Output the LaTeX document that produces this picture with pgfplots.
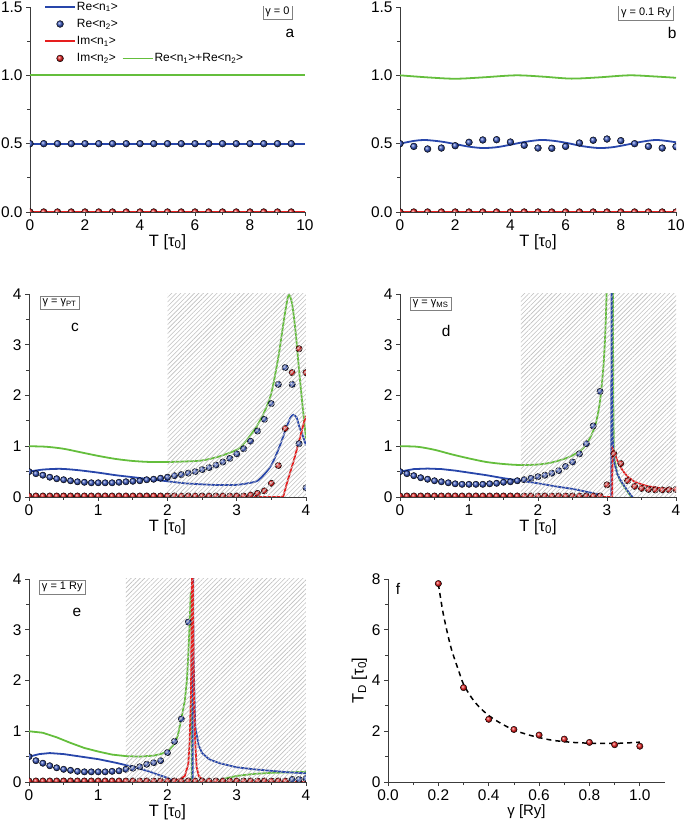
\documentclass[border=0pt]{standalone}
\usepackage{fontspec}
\setmainfont{Liberation Sans}
\usepackage{pgfplots}
\pgfplotsset{compat=1.18}
\usetikzlibrary{patterns.meta}
\definecolor{cblue}{RGB}{40,70,170}
\definecolor{cball}{RGB}{55,85,190}
\definecolor{cred}{RGB}{230,30,30}
\definecolor{cgreen}{RGB}{100,190,60}
\definecolor{axgray}{RGB}{60,60,60}
\tikzset{
  boxnode/.style={draw=gray, fill=white, inner sep=2.5bp, font=\fontsize{11}{12}\selectfont},
  letter/.style={font=\fontsize{15.5}{15.5}\selectfont},
}
\pgfplotsset{
  base/.style={scale only axis, axis lines*=left,
    axis line style={axgray, line width=0.8pt},
    tick style={axgray, line width=0.8pt},
    tick align=outside, major tick length=4bp, minor tick length=3bp,
    minor tick num=1, clip marker paths=true,
    tick label style={font=\fontsize{15.5}{15.5}\selectfont},
    label style={font=\fontsize{16.5}{16.5}\selectfont},
    /pgf/number format/assume math mode=true,
    xlabel style={yshift=3bp}},
  bline/.style={cblue, line width=1.8pt},
  rline/.style={cred, line width=1.8pt},
  gline/.style={cgreen, line width=1.8pt},
  bballs/.style={only marks, mark=ball, mark size=3.2bp, mark options={ball color=cball}},
  rballs/.style={only marks, mark=ball, mark size=3.2bp, mark options={ball color=cred}},
  hatch/.style={draw=none, pattern={Lines[angle=45, distance=3.2bp, line width=0.6bp]}, pattern color=gray!50},
  lineleg/.style={legend image code/.code={\draw[##1] (0bp,0bp) -- (30bp,0bp);}},
  ballleg/.style={legend image code/.code={\draw[##1] plot coordinates {(15bp,0bp)};}},
}
\begin{document}
\begin{tikzpicture}
\useasboundingbox (0,0) rectangle (685bp,827bp);
% ---------------- panel a
\begin{axis}[base, at={(30bp,615bp)}, anchor=south west, width=275bp, height=205bp,
  xmin=0, xmax=10, ymin=0, ymax=1.5, xtick={0,2,...,10}, ytick={0,0.5,1,1.5},
  yticklabel style={/pgf/number format/.cd, fixed, fixed zerofill, precision=1},
  xlabel={T [τ\textsubscript{0}]},
  legend columns=2, legend cell align=left,
  legend style={draw=none, fill=none, at={(rel axis cs:0.04,1.045)}, anchor=north west,
    font=\fontsize{12}{12}\selectfont, row sep=3.5bp,
    /tikz/every odd column/.append style={column sep=-1bp},
    /tikz/every even column/.append style={column sep=2bp}}]
\addplot[bline, lineleg] coordinates {(0,0.5) (2.5,0.5) (5,0.5) (7.5,0.5) (10,0.5)};
\addlegendentry{Re<n\textsubscript{1}>}
\addlegendimage{empty legend}
\addlegendentry{}
\addplot[bballs, mark size=3.4bp, ballleg] coordinates {(0,0.5)(0.5,0.5)(1,0.5)(1.5,0.5)(2,0.5)(2.5,0.5)(3,0.5)(3.5,0.5)(4,0.5)(4.5,0.5)(5,0.5)(5.5,0.5)(6,0.5)(6.5,0.5)(7,0.5)(7.5,0.5)(8,0.5)(8.5,0.5)(9,0.5)(9.5,0.5)};
\addlegendentry{Re<n\textsubscript{2}>}
\addlegendimage{empty legend}
\addlegendentry{}
\addplot[rline, lineleg] coordinates {(0,0) (2.5,0) (5,0) (7.5,0) (10,0)};
\addlegendentry{Im<n\textsubscript{1}>}
\addlegendimage{empty legend}
\addlegendentry{}
\addplot[rballs, mark size=3.4bp, ballleg] coordinates {(0,0)(0.5,0)(1,0)(1.5,0)(2,0)(2.5,0)(3,0)(3.5,0)(4,0)(4.5,0)(5,0)(5.5,0)(6,0)(6.5,0)(7,0)(7.5,0)(8,0)(8.5,0)(9,0)(9.5,0)};
\addlegendentry{Im<n\textsubscript{2}>}
\addplot[gline, lineleg] coordinates {(0,1) (2.5,1) (5,1) (7.5,1) (10,1)};
\addlegendentry{Re<n\textsubscript{1}>+Re<n\textsubscript{2}>}
\node[boxnode] at (rel axis cs:0.9,0.975) {γ = 0};
\node[letter] at (rel axis cs:0.945,0.873) {a};
\end{axis}
% ---------------- panel b
\begin{axis}[base, at={(400bp,615bp)}, anchor=south west, width=276bp, height=205bp,
  xmin=0, xmax=10, ymin=0, ymax=1.5, xtick={0,2,...,10}, ytick={0,0.5,1,1.5},
  yticklabel style={/pgf/number format/.cd, fixed, fixed zerofill, precision=1},
  xlabel={T [τ\textsubscript{0}]}]
\addplot[gline, smooth] coordinates {(0,1.0)(1,0.985)(2,0.975)(3,0.985)(4.2,1.0)(5.2,0.99)(6.2,0.976)(7.2,0.985)(8.3,1.0)(9.2,0.992)(10,0.982)};
\addplot[bline, smooth] coordinates {(0,0.5)(0.5,0.52)(0.9,0.527)(1.5,0.515)(2,0.497)(2.5,0.478)(3.0,0.468)(3.5,0.474)(4.0,0.492)(4.5,0.512)(5.1,0.527)(5.6,0.52)(6.1,0.503)(6.6,0.482)(7.2,0.468)(7.7,0.474)(8.2,0.492)(8.7,0.512)(9.3,0.527)(10,0.51)};
\addplot[rline] coordinates {(0,0) (2.5,0) (5,0) (7.5,0) (10,0)};
\addplot[bballs, mark size=3.4bp] coordinates {(0,0.5)(0.5,0.48)(1,0.461)(1.5,0.468)(2,0.485)(2.5,0.51)(3,0.527)(3.5,0.529)(4,0.512)(4.5,0.488)(5,0.468)(5.5,0.466)(6,0.48)(6.5,0.505)(7,0.525)(7.5,0.534)(8,0.522)(8.5,0.5)(9,0.48)(9.5,0.468)(10,0.478)};
\addplot[rballs, mark size=3.4bp] coordinates {(0,0)(0.5,0)(1,0)(1.5,0)(2,0)(2.5,0)(3,0)(3.5,0)(4,0)(4.5,0)(5,0)(5.5,0)(6,0)(6.5,0)(7,0)(7.5,0)(8,0)(8.5,0)(9,0)(9.5,0)(10,0)};
\node[boxnode] at (rel axis cs:0.891,0.97) {γ = 0.1 Ry};
\node[letter] at (rel axis cs:0.986,0.873) {b};
\end{axis}
% ---------------- panel c
\begin{axis}[base, at={(29bp,330bp)}, anchor=south west, width=277bp, height=203bp,
  xmin=0, xmax=4, ymin=0, ymax=4, xtick={0,1,2,3,4}, ytick={0,1,2,3,4},
  xlabel={T [τ\textsubscript{0}]}]
\addplot[gline, smooth] coordinates {(0,1.0)(0.25,0.99)(0.5,0.95)(0.75,0.88)(1.0,0.81)(1.25,0.75)(1.5,0.71)(1.75,0.69)(2.0,0.69)(2.25,0.7)(2.5,0.72)(2.75,0.8)(3.0,0.93)(3.1,1.05)(3.2,1.22)(3.3,1.42)(3.4,1.68)(3.5,2.05)(3.6,2.75)(3.65,3.2)(3.7,3.65)(3.75,3.98)(3.8,3.8)(3.85,3.25)(3.9,2.5)(3.95,1.8)(4.0,1.15)};
\addplot[bline, smooth] coordinates {(0,0.5)(0.2,0.54)(0.45,0.555)(0.7,0.53)(1.0,0.48)(1.25,0.43)(1.5,0.39)(1.75,0.35)(2.0,0.31)(2.25,0.27)(2.5,0.25)(2.75,0.235)(3.0,0.24)(3.2,0.28)(3.3,0.32)(3.4,0.45)(3.5,0.63)(3.6,0.93)(3.7,1.3)(3.77,1.55)(3.82,1.62)(3.87,1.55)(3.9,1.4)(3.95,1.22)(4.0,1.02)};
\addplot[rline] coordinates {(0,0)(3.67,0)(3.72,0.25)(3.77,0.48)(3.82,0.7)(3.87,0.95)(3.92,1.2)(3.96,1.42)(4.0,1.6)};
\addplot[bballs] coordinates {(0,0.5)(0.1,0.46)(0.2,0.43)(0.3,0.39)(0.4,0.36)(0.5,0.34)(0.6,0.32)(0.7,0.3)(0.8,0.29)(0.9,0.28)(1.0,0.28)(1.1,0.28)(1.2,0.28)(1.3,0.29)(1.4,0.3)(1.5,0.31)(1.6,0.32)(1.7,0.34)(1.8,0.35)(1.9,0.37)(2.0,0.39)(2.1,0.42)(2.2,0.44)(2.3,0.47)(2.4,0.5)(2.5,0.54)(2.6,0.58)(2.7,0.63)(2.8,0.69)(2.9,0.76)(3.0,0.85)(3.1,0.95)(3.2,1.1)(3.3,1.3)(3.4,1.53)(3.5,1.84)(3.6,2.22)(3.7,2.55)(3.8,2.22)(3.9,1.05)(4.0,0.18)};
\addplot[rballs] coordinates {(0,0.02)(0.1,0.02)(0.2,0.02)(0.3,0.02)(0.4,0.02)(0.5,0.02)(0.6,0.02)(0.7,0.02)(0.8,0.02)(0.9,0.02)(1.0,0.02)(1.1,0.02)(1.2,0.02)(1.3,0.02)(1.4,0.02)(1.5,0.02)(1.6,0.02)(1.7,0.02)(1.8,0.02)(1.9,0.02)(2.0,0.02)(2.1,0.02)(2.2,0.02)(2.3,0.02)(2.4,0.02)(2.5,0.02)(2.6,0.02)(2.7,0.02)(2.8,0.02)(2.9,0.02)(3.0,0.02)(3.1,0.02)(3.2,0.04)(3.3,0.07)(3.4,0.12)(3.5,0.27)(3.6,0.62)(3.7,1.35)(3.8,2.45)(3.9,2.92)(4.0,2.45)};
\addplot[hatch] coordinates {(2,4)(4,4)} \closedcycle;
\node[boxnode] at (rel axis cs:0.11,0.956) {γ = γ\textsubscript{PT}};
\node[letter] at (rel axis cs:0.166,0.833) {c};
\end{axis}
% ---------------- panel d
\begin{axis}[base, at={(400bp,330bp)}, anchor=south west, width=276bp, height=203bp,
  xmin=0, xmax=4, ymin=0, ymax=4, xtick={0,1,2,3,4}, ytick={0,1,2,3,4},
  xlabel={T [τ\textsubscript{0}]}]
\addplot[gline, smooth] coordinates {(0,1)(0.25,0.99)(0.5,0.93)(0.75,0.84)(1.0,0.76)(1.25,0.69)(1.5,0.65)(1.75,0.63)(2.0,0.64)(2.2,0.68)(2.4,0.76)(2.5,0.82)(2.6,0.9)(2.7,1.03)(2.8,1.3)(2.85,1.52)(2.9,1.9)(2.95,2.6)(2.98,3.4)(3.0,4.3)};
\addplot[gline] coordinates {(3.085,4.3)(3.09,2.0)(3.1,0.8)(3.15,0.45)(3.2,0.3)(3.3,0.1)(3.35,0)};
\addplot[bline] coordinates {(0,0.5)(0.2,0.55)(0.4,0.56)(0.6,0.55)(0.8,0.52)(1.0,0.48)(1.25,0.43)(1.5,0.37)(1.75,0.32)(2.0,0.27)(2.25,0.21)(2.5,0.16)(2.75,0.09)(2.9,0.04)(3.0,-0.1)(3.05,-1)(3.06,-5)(3.065,5)(3.07,2.5)(3.08,1.2)(3.1,0.7)(3.15,0.45)(3.2,0.32)(3.3,0.12)(3.35,0.03)(3.4,-0.05)};
\addplot[rline] coordinates {(0,0)(3.075,0)(3.08,0.95)(3.1,0.9)(3.15,0.72)(3.2,0.58)(3.25,0.48)(3.3,0.4)(3.4,0.3)(3.5,0.25)(3.6,0.21)(3.7,0.19)(3.8,0.17)(3.9,0.16)(4.0,0.15)};
\addplot[bballs] coordinates {(0,0.5)(0.1,0.46)(0.2,0.42)(0.3,0.38)(0.4,0.35)(0.5,0.32)(0.6,0.3)(0.7,0.28)(0.8,0.26)(0.9,0.25)(1.0,0.25)(1.1,0.25)(1.2,0.25)(1.3,0.26)(1.4,0.27)(1.5,0.29)(1.6,0.3)(1.7,0.32)(1.8,0.34)(1.9,0.37)(2.0,0.4)(2.1,0.43)(2.2,0.47)(2.3,0.52)(2.4,0.6)(2.5,0.69)(2.6,0.85)(2.7,1.05)(2.8,1.4)(2.9,2.08)};
\addplot[rballs] coordinates {(0,0.02)(0.1,0.02)(0.2,0.02)(0.3,0.02)(0.4,0.02)(0.5,0.02)(0.6,0.02)(0.7,0.02)(0.8,0.02)(0.9,0.02)(1.0,0.02)(1.1,0.02)(1.2,0.02)(1.3,0.02)(1.4,0.02)(1.5,0.02)(1.6,0.02)(1.7,0.02)(1.8,0.02)(1.9,0.02)(2.0,0.02)(2.1,0.02)(2.2,0.02)(2.3,0.02)(2.4,0.02)(2.5,0.02)(2.6,0.02)(2.7,0.02)(2.8,0.02)(2.9,0.02)(3.0,0.24)(3.1,0.85)(3.2,0.66)(3.3,0.32)(3.4,0.21)(3.5,0.17)(3.6,0.15)(3.7,0.14)(3.8,0.14)(3.9,0.14)(4.0,0.15)};
\addplot[hatch] coordinates {(1.75,4)(4,4)} \closedcycle;
\node[boxnode] at (rel axis cs:0.111,0.95) {γ = γ\textsubscript{MS}};
\node[letter] at (rel axis cs:0.167,0.82) {d};
\end{axis}
% ---------------- panel e
\begin{axis}[base, at={(29bp,45bp)}, anchor=south west, width=277bp, height=203bp,
  xmin=0, xmax=4, ymin=0, ymax=4, xtick={0,1,2,3,4}, ytick={0,1,2,3,4},
  xlabel={T [τ\textsubscript{0}]}]
\addplot[gline] coordinates {(0,1)(0.2,0.97)(0.4,0.88)(0.6,0.77)(0.8,0.67)(1.0,0.6)(1.2,0.54)(1.4,0.51)(1.6,0.5)(1.8,0.52)(1.9,0.55)(2.0,0.6)(2.1,0.75)(2.15,0.92)(2.2,1.25)(2.25,1.6)(2.28,2.0)(2.3,2.5)(2.32,3.1)(2.335,3.72)(2.35,3.72)(2.352,0)(2.7,0)(2.8,0.06)(3.0,0.12)(3.25,0.16)(3.5,0.18)(3.75,0.19)(4.0,0.2)};
\addplot[bline] coordinates {(0,0.5)(0.15,0.55)(0.3,0.57)(0.5,0.55)(0.75,0.5)(1.0,0.45)(1.25,0.38)(1.5,0.3)(1.75,0.2)(2.0,0.08)(2.1,0.02)(2.2,-0.1)(2.36,-6)(2.365,6)(2.375,2.5)(2.4,1.1)(2.45,0.72)(2.5,0.57)(2.6,0.45)(2.75,0.37)(3.0,0.29)(3.25,0.25)(3.5,0.22)(3.75,0.19)(4.0,0.17)};
\addplot[rline] coordinates {(0,0)(2.0,0)(2.1,0.02)(2.2,0.07)(2.25,0.12)(2.3,0.35)(2.32,0.8)(2.34,1.8)(2.35,3.5)(2.36,5)(2.37,3.2)(2.38,1.8)(2.4,0.8)(2.42,0.3)(2.45,0.12)(2.5,0.05)(2.6,0.01)(2.7,0)(4,0)};
\addplot[bballs] coordinates {(0,0.5)(0.1,0.42)(0.2,0.37)(0.3,0.32)(0.4,0.28)(0.5,0.25)(0.6,0.23)(0.7,0.21)(0.8,0.2)(0.9,0.2)(1.0,0.2)(1.1,0.2)(1.2,0.21)(1.3,0.22)(1.4,0.25)(1.5,0.27)(1.6,0.3)(1.7,0.35)(1.8,0.38)(1.9,0.42)(2.0,0.58)(2.1,0.8)(2.2,1.24)(2.3,3.15)(3.8,0.05)(3.9,0.05)(4.0,0.07)};
\addplot[rballs] coordinates {(0,0.02)(0.1,0.02)(0.2,0.02)(0.3,0.02)(0.4,0.02)(0.5,0.02)(0.6,0.02)(0.7,0.02)(0.8,0.02)(0.9,0.02)(1.0,0.02)(1.1,0.02)(1.2,0.02)(1.3,0.02)(1.4,0.02)(1.5,0.02)(1.6,0.02)(1.7,0.02)(1.8,0.02)(1.9,0.02)(2.0,0.02)(2.1,0.02)(2.2,0.02)(2.3,0.02)(2.4,0.02)(2.5,0.02)(2.6,0.02)(2.7,0.02)(2.8,0.02)(2.9,0.02)(3.0,0.02)(3.1,0.02)(3.2,0.02)(3.3,0.02)(3.4,0.02)(3.5,0.02)(3.6,0.02)(3.7,0.02)};
\addplot[hatch] coordinates {(1.4,4)(4,4)} \closedcycle;
\node[boxnode] at (rel axis cs:0.12,0.96) {γ = 1 Ry};
\node[letter] at (rel axis cs:0.173,0.837) {e};
\end{axis}
% ---------------- panel f
\begin{axis}[base, at={(388bp,45bp)}, anchor=south west, width=277bp, height=203bp,
  xmin=0, xmax=1.1, ymin=0, ymax=8, xtick={0,0.2,...,1.0}, ytick={0,2,4,6,8},
  xticklabel style={/pgf/number format/.cd, fixed, fixed zerofill, precision=1},
  xlabel={γ [Ry]}, ylabel={T\textsubscript{D} [τ\textsubscript{0}]},
  xlabel style={font=\fontsize{15}{15}\selectfont},
  ylabel style={yshift=-2bp}, clip marker paths=false]
\addplot[black, line width=1.5pt, dash pattern=on 5bp off 4bp, smooth] coordinates {(0.2,7.8)(0.22,6.6)(0.25,5.3)(0.28,4.4)(0.3,3.85)(0.33,3.35)(0.36,2.98)(0.4,2.62)(0.45,2.3)(0.5,2.05)(0.55,1.88)(0.6,1.75)(0.65,1.65)(0.7,1.59)(0.75,1.55)(0.8,1.53)(0.85,1.52)(0.9,1.52)(0.95,1.54)(1.0,1.57)};
\addplot[rballs] coordinates {(0.2,7.82)(0.3,3.72)(0.4,2.47)(0.5,2.07)(0.6,1.85)(0.7,1.69)(0.8,1.56)(0.9,1.47)(1.0,1.41)};
\node[letter] at (rel axis cs:0.036,0.95) {f};
\end{axis}
\end{tikzpicture}
\end{document}
